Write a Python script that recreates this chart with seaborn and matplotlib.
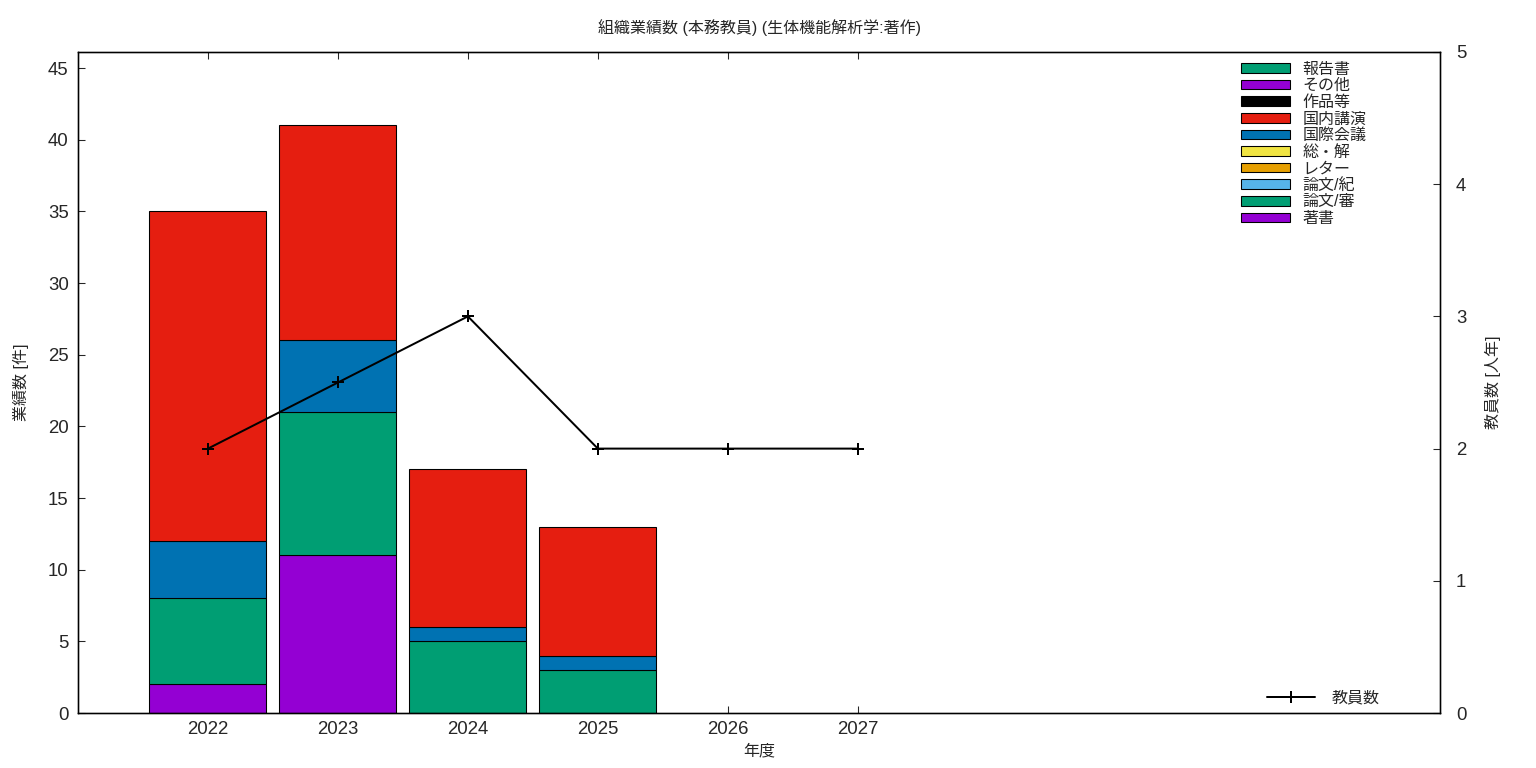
import numpy as np
import pandas as pd
import matplotlib
matplotlib.use('Agg')
import matplotlib.pyplot as plt
import seaborn as sns
from matplotlib.patches import Patch
from matplotlib.lines import Line2D

# data
years = [2022, 2023, 2024, 2025, 2026, 2027]
categories = ['著書', '論文/審', '論文/紀', 'レター', '総・解', '国際会議', '国内講演', '作品等', 'その他', '報告書']
colors = ['#9400d3', '#009e73', '#56b4e9', '#e69f00', '#f0e442', '#0072b2', '#e51e10', '#000000', '#9400d3', '#009e73']
chosho = [2, 11, 0, 0, 0, 0]
ronbun_sin = [6, 10, 5, 3, 0, 0]
ronbun_ki = [0, 0, 0, 0, 0, 0]
letter = [0, 0, 0, 0, 0, 0]
sokai = [0, 0, 0, 0, 0, 0]
kokusai = [4, 5, 1, 1, 0, 0]
kokunai = [23, 15, 11, 9, 0, 0]
sakuhin = [0, 0, 0, 0, 0, 0]
sonota = [0, 0, 0, 0, 0, 0]
houkoku = [0, 0, 0, 0, 0, 0]
staff = [2, 2.5, 3, 2, 2, 2]

series = [chosho, ronbun_sin, ronbun_ki, letter, sokai, kokusai, kokunai, sakuhin, sonota, houkoku]

sns.set_style('white')
plt.rcParams['font.family'] = ['Liberation Sans', 'Noto Sans CJK JP', 'DejaVu Sans']

fig = plt.figure(figsize=(16, 8), dpi=96)
ax = fig.add_axes([78 / 1536, 55 / 768, (1440 - 78) / 1536, (713 - 52) / 768])

bottom = np.zeros(len(years))
for name, vals, c in zip(categories, series, colors):
    vals = np.array(vals, dtype=float)
    keep = vals > 0
    if keep.any():
        ax.bar(np.array(years)[keep], vals[keep], width=0.9, bottom=bottom[keep],
               color=c, edgecolor='black', linewidth=0.8, zorder=2)
    bottom += vals

ax.set_xlim(2021.0, 2031.48)
ax.set_ylim(0, 46.12)
ax.set_xticks(years)
ax.set_yticks(range(0, 46, 5))
ax.tick_params(axis='x', direction='in', length=5, top=True, bottom=True, labelsize=14, pad=6)
ax.tick_params(axis='y', direction='in', length=5, left=True, right=False, labelsize=14, pad=7)
ax.set_xlabel('年度', fontsize=12, labelpad=4)
ax.set_ylabel('業績数 [件]', fontsize=12, labelpad=14)
ax.set_title('組織業績数 (本務教員) (生体機能解析学:著作)', fontsize=12, pad=14)
for s in ax.spines.values():
    s.set_color('black')
    s.set_linewidth(1.0)
    s.set_zorder(6)

ax2 = ax.twinx()
df = pd.DataFrame({'year': years, 'staff': staff})
sns.lineplot(data=df, x='year', y='staff', ax=ax2, color='black', linewidth=1.5,
             marker='+', markersize=9, markeredgewidth=1.5, markeredgecolor='black',
             legend=False)
ax2.set_ylim(0, 5)
ax2.set_yticks(range(0, 6))
ax2.tick_params(axis='y', direction='in', length=5, right=True, labelsize=14, pad=12)
ax2.set_ylabel('教員数 [人年]', fontsize=12, labelpad=14)
ax2.set_xlabel('')
for s in ax2.spines.values():
    s.set_color('black')
    s.set_linewidth(1.0)

handles = [Patch(facecolor=c, edgecolor='black', linewidth=0.8, label=n)
           for n, c in zip(categories[::-1], colors[::-1])]
leg = ax.legend(handles=handles, loc='upper right', bbox_to_anchor=(0.953, 1.0),
                frameon=False, fontsize=12, handlelength=3.1, handleheight=0.55,
                labelspacing=0.1, handletextpad=0.75, borderaxespad=0.2)

line_h = [Line2D([0], [0], color='black', linewidth=1.5, marker='+', markersize=9,
                 markeredgewidth=1.5, label='教員数')]
ax2.legend(handles=line_h, loc='lower right', bbox_to_anchor=(0.966, -0.01),
           frameon=False, fontsize=12, handlelength=3.0, handletextpad=1.0)

fig.savefig('out.png', dpi=96)
